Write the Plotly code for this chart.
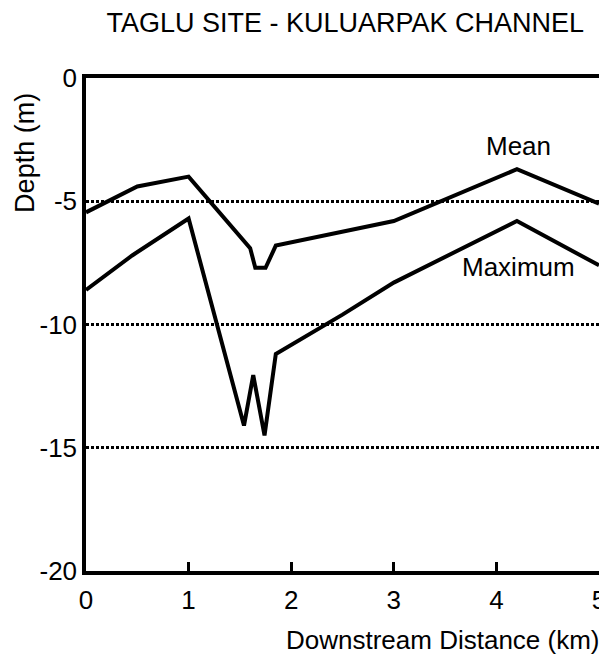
import plotly.graph_objects as go

mean_x = [0.0, 0.5, 1.0, 1.6, 1.65, 1.75, 1.85, 3.0, 4.2, 5.0]
mean_y = [-5.45, -4.4, -4.0, -6.9, -7.7, -7.7, -6.8, -5.8, -3.7, -5.1]

max_x = [0.0, 0.45, 1.0, 1.54, 1.63, 1.74, 1.85, 2.5, 3.0, 4.2, 5.0]
max_y = [-8.6, -7.2, -5.7, -14.1, -12.05, -14.5, -11.2, -9.6, -8.3, -5.8, -7.6]

x_ticks = [0, 1, 2, 3, 4, 5]
x_labels = ["0", "1", "2", "3", "4", "5"]
y_ticks = [0, -5, -10, -15, -20]
y_labels = ["0", "-5", "-10", "-15", "-20"]

font = "Liberation Sans, Arial, Helvetica, sans-serif"

fig = go.Figure()
fig.add_trace(go.Scatter(x=mean_x, y=mean_y, mode="lines",
                         line=dict(color="black", width=4), name="Mean"))
fig.add_trace(go.Scatter(x=max_x, y=max_y, mode="lines",
                         line=dict(color="black", width=4), name="Maximum"))

# page body has an 8px default margin, so the figure is 8px smaller
fig.update_layout(
    width=599, height=648,
    margin=dict(l=78, r=8, t=70, b=85),
    paper_bgcolor="white", plot_bgcolor="white",
    showlegend=False,
    font=dict(family=font, color="black"),
    title=dict(text="TAGLU SITE - KULUARPAK CHANNEL", x=0.563, xanchor="center",
               y=0.977, yanchor="middle", font=dict(size=27, family=font)),
    xaxis=dict(range=[0, 5], tickvals=x_ticks, ticktext=x_labels,
               ticks="inside", ticklen=9, tickwidth=3, tickcolor="black",
               showline=True, linewidth=3.5, linecolor="black", mirror=True,
               showgrid=False, zeroline=False, automargin=False,
               ticklabeloverflow="allow",
               tickfont=dict(size=26, family=font), ticklabelstandoff=3),
    yaxis=dict(range=[-20, 0], tickvals=y_ticks, ticktext=y_labels, ticks="",
               showline=True, linewidth=3.5, linecolor="black", mirror=True,
               showgrid=True, gridcolor="black", griddash="3px,2px",
               gridwidth=2.5, zeroline=False, automargin=False,
               ticklabeloverflow="allow",
               tickfont=dict(size=26, family=font), ticklabelstandoff=0),
    annotations=[
        dict(text="Depth (m)", textangle=-90, xref="paper", yref="paper",
             x=-0.119, y=0.848, xanchor="center", yanchor="middle",
             borderpad=0, showarrow=False, font=dict(size=27, family=font)),
        dict(text="Downstream Distance (km)", xref="paper", yref="paper",
             x=1.006, y=-0.140, xanchor="right", yanchor="middle",
             showarrow=False, font=dict(size=26, family=font)),
        dict(text="Mean", x=4.22, y=-2.75, xref="x", yref="y",
             showarrow=False, font=dict(size=26, family=font)),
        dict(text="Maximum", x=4.22, y=-7.67, xref="x", yref="y",
             showarrow=False, font=dict(size=26, family=font)),
    ],
)

fig.write_html("out.html")
